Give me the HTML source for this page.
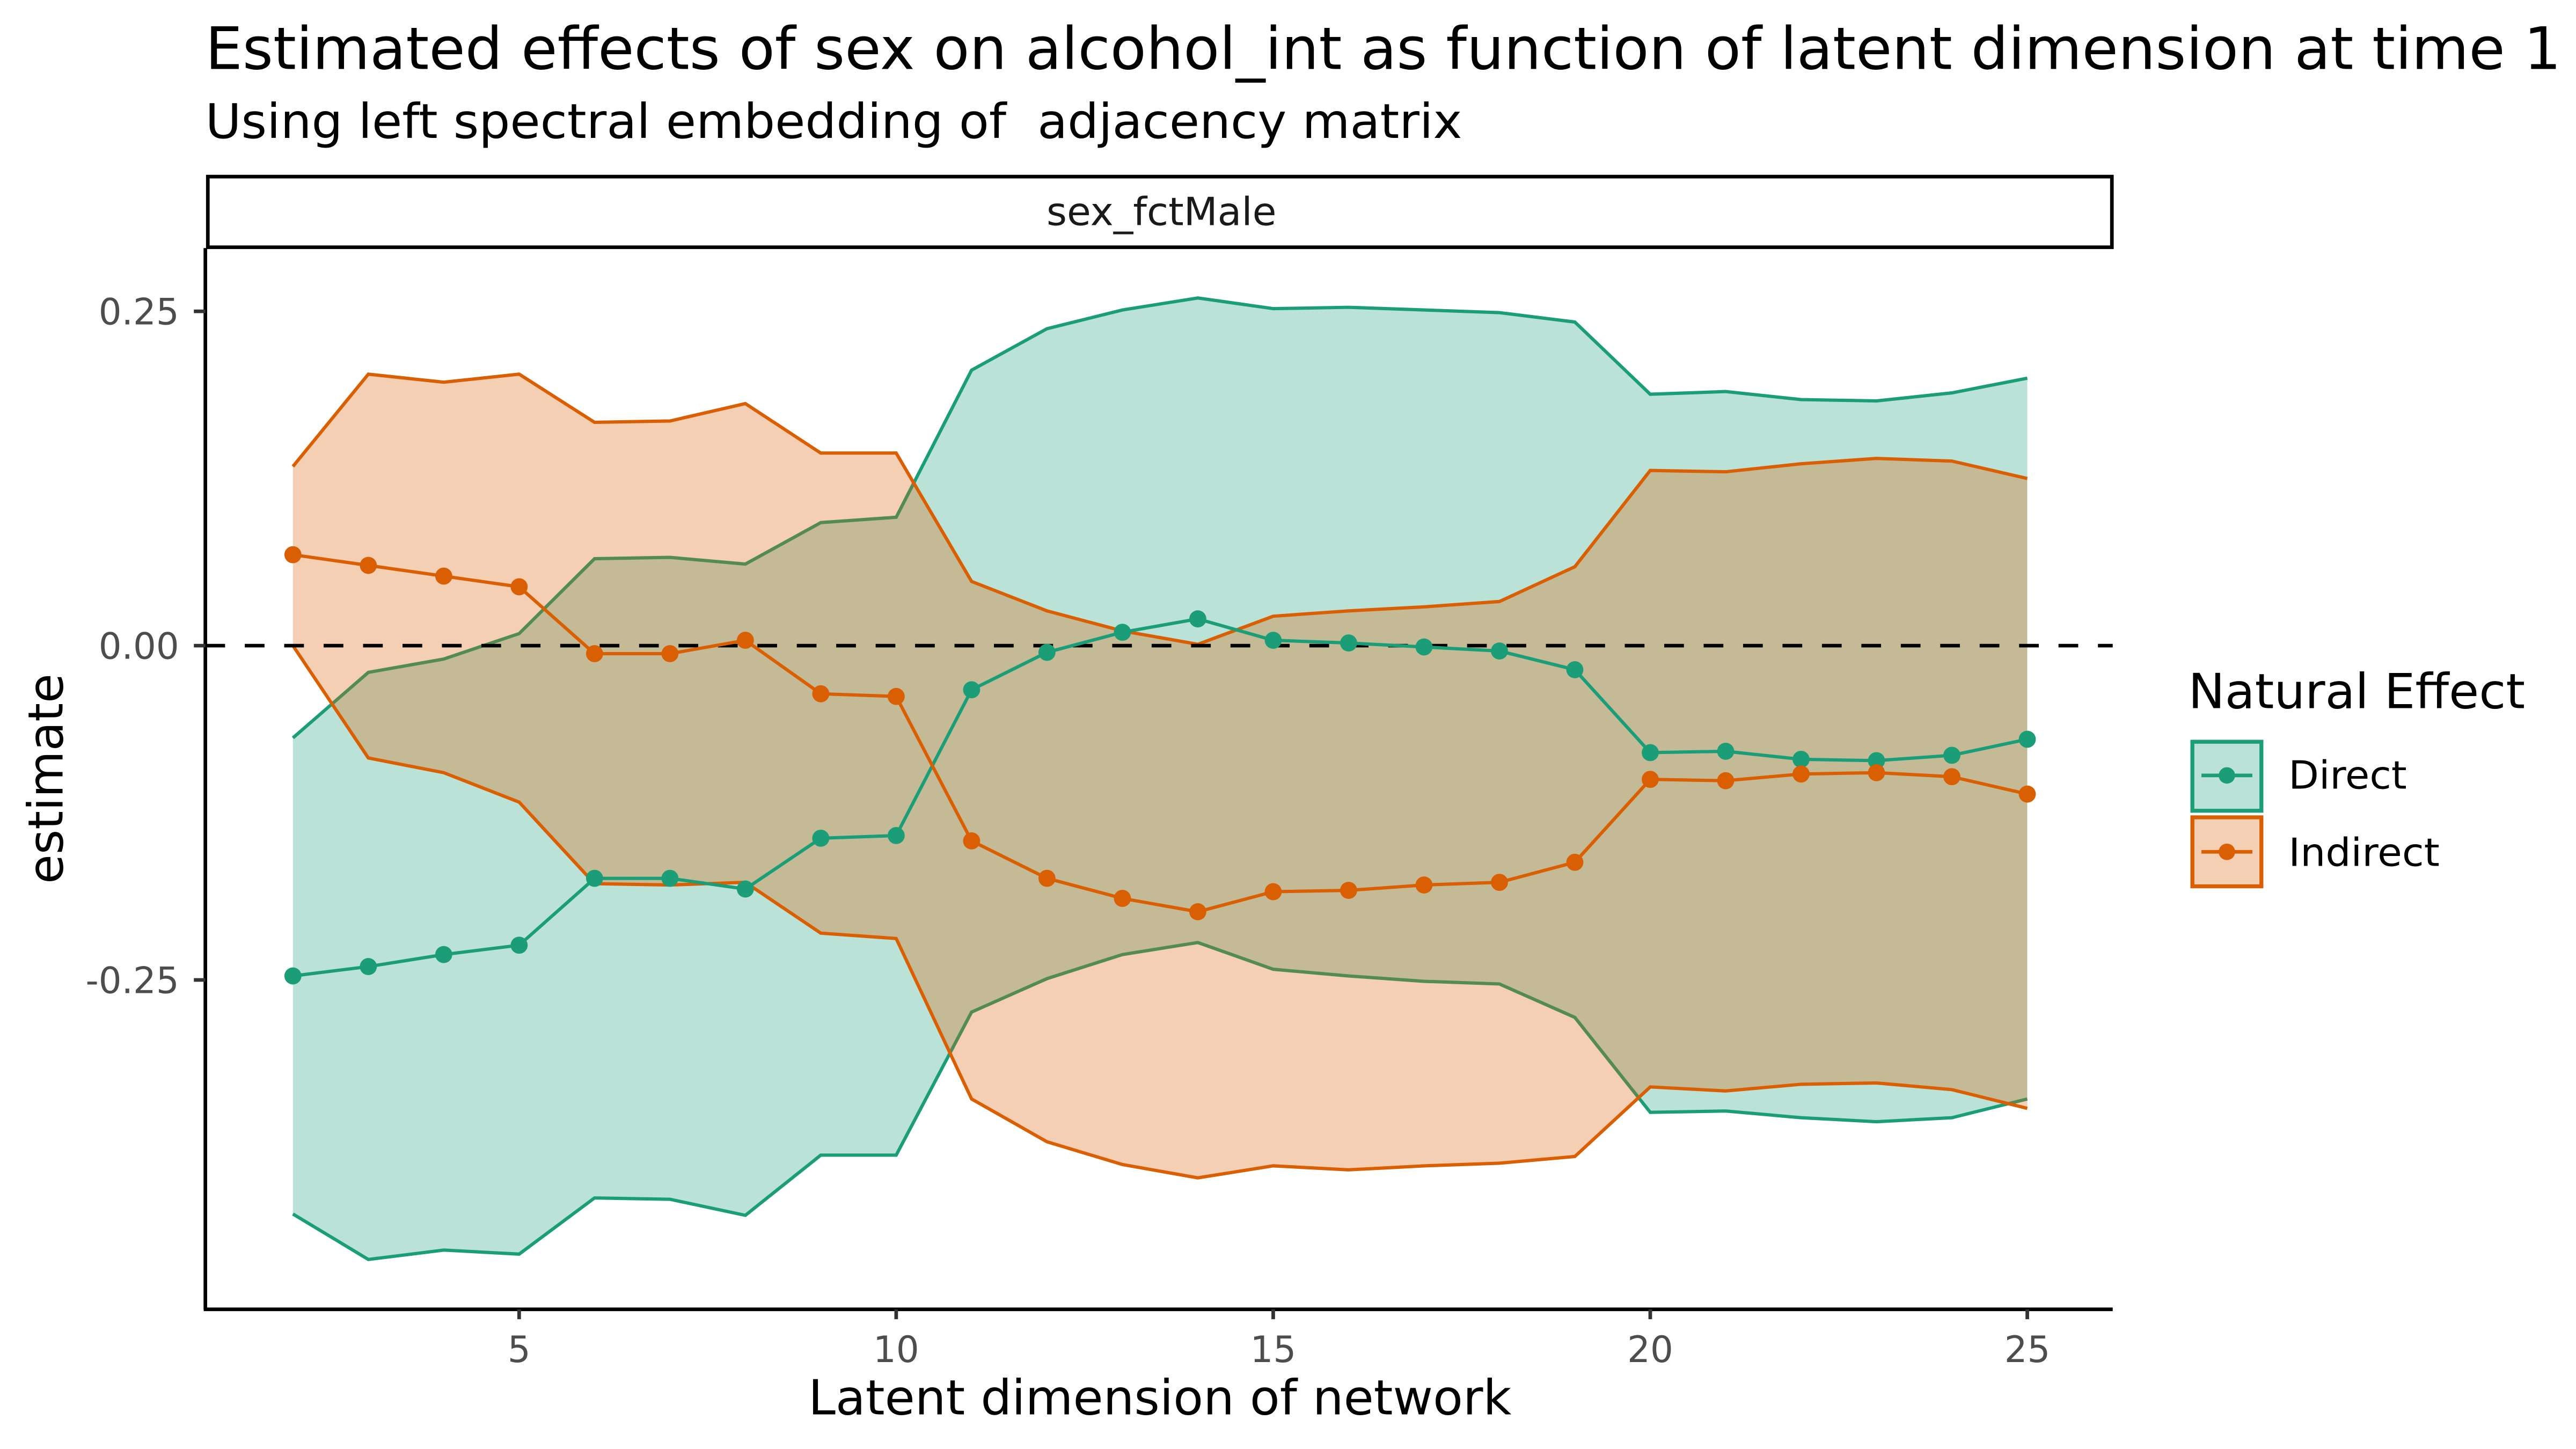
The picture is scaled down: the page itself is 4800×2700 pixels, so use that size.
<!DOCTYPE html>
<html><head><meta charset="utf-8"><style>
html,body{margin:0;padding:0;background:#fff;}
svg{display:block;font-family:"DejaVu Sans","Liberation Sans",sans-serif;}
</style></head><body>
<svg id="chart" width="4800" height="2700" viewBox="0 0 1568 882" xmlns="http://www.w3.org/2000/svg">
<rect width="1568" height="882" fill="#fff"/>
<text x="125" y="42" font-size="35.5" fill="#000" textLength="1434" lengthAdjust="spacingAndGlyphs">Estimated effects of sex on alcohol_int as function of latent dimension at time 1</text>
<text x="125" y="84" font-size="29" fill="#000" xml:space="preserve" textLength="765" lengthAdjust="spacingAndGlyphs">Using left spectral embedding of  adjacency matrix</text>
<rect x="126.5" y="107.5" width="1159" height="43" fill="#fff" stroke="#000" stroke-width="2.2"/>
<text x="707" y="137" font-size="23.5" text-anchor="middle" fill="#1a1a1a" textLength="140" lengthAdjust="spacingAndGlyphs">sex_fctMale</text>
<g id="plot"></g>
<line x1="125" y1="151" x2="125" y2="797" stroke="#000" stroke-width="2.2"/>
<line x1="124" y1="797" x2="1286" y2="797" stroke="#000" stroke-width="2.2"/>
<g id="ticks"></g>
<text x="706" y="861" font-size="29.5" text-anchor="middle" fill="#000" textLength="428" lengthAdjust="spacingAndGlyphs">Latent dimension of network</text>
<text transform="translate(38,474) rotate(-90)" font-size="29.5" text-anchor="middle" fill="#000" textLength="128" lengthAdjust="spacingAndGlyphs">estimate</text>
<text x="1332" y="431" font-size="29.5" fill="#000" textLength="205" lengthAdjust="spacingAndGlyphs">Natural Effect</text>
<g>
<rect x="1334.5" y="451.5" width="42" height="42" fill="#bae2d6" stroke="#1b9e77" stroke-width="2.4"/>
<line x1="1340" y1="472" x2="1371" y2="472" stroke="#1b9e77" stroke-width="2.2"/>
<circle cx="1355.5" cy="472" r="5" fill="#1b9e77"/>
<text x="1393" y="480" font-size="23.5" fill="#000" textLength="72" lengthAdjust="spacingAndGlyphs">Direct</text>
</g>
<g>
<rect x="1334.5" y="497.5" width="42" height="42" fill="#f4cfb3" stroke="#d95f02" stroke-width="2.4"/>
<line x1="1340" y1="518.5" x2="1371" y2="518.5" stroke="#d95f02" stroke-width="2.2"/>
<circle cx="1355.5" cy="518.5" r="5" fill="#d95f02"/>
<text x="1393" y="527" font-size="23.5" fill="#000" textLength="92" lengthAdjust="spacingAndGlyphs">Indirect</text>
</g>
</svg>
<script>
const dims = [2,3,4,5,6,7,8,9,10,11,12,13,14,15,16,17,18,19,20,21,22,23,24,25];
const directEst = [-0.247,-0.240,-0.231,-0.224,-0.174,-0.174,-0.182,-0.144,-0.142,-0.033,-0.005,0.010,0.020,0.004,0.002,-0.001,-0.004,-0.018,-0.080,-0.079,-0.085,-0.086,-0.082,-0.070];
const directHi = [-0.069,-0.020,-0.010,0.009,0.065,0.066,0.061,0.092,0.096,0.206,0.237,0.251,0.260,0.252,0.253,0.251,0.249,0.242,0.188,0.190,0.184,0.183,0.189,0.200];
const directLo = [-0.425,-0.459,-0.452,-0.455,-0.413,-0.414,-0.426,-0.381,-0.381,-0.274,-0.249,-0.231,-0.222,-0.242,-0.247,-0.251,-0.253,-0.278,-0.349,-0.348,-0.353,-0.356,-0.353,-0.339];
const indirectEst = [0.068,0.060,0.052,0.044,-0.006,-0.006,0.004,-0.036,-0.038,-0.146,-0.174,-0.189,-0.199,-0.184,-0.183,-0.179,-0.177,-0.162,-0.100,-0.101,-0.096,-0.095,-0.098,-0.111];
const indirectHi = [0.134,0.203,0.197,0.203,0.167,0.168,0.181,0.144,0.144,0.048,0.026,0.011,0.001,0.022,0.026,0.029,0.033,0.059,0.131,0.130,0.136,0.140,0.138,0.125];
const indirectLo = [0.000,-0.084,-0.095,-0.117,-0.178,-0.179,-0.177,-0.215,-0.219,-0.339,-0.371,-0.388,-0.398,-0.389,-0.392,-0.389,-0.387,-0.382,-0.330,-0.333,-0.328,-0.327,-0.332,-0.346];
const xTicks = [5,10,15,20,25];
const yTicks = [0.25,0,-0.25];
const yTickLabels = ["0.25","0.00","-0.25"];

const NS = "http://www.w3.org/2000/svg";
const xScale = d => 316 + (d - 5) * 45.9;
const yScale = v => 393 - v * 814;
const plot = document.getElementById('plot');
const ticks = document.getElementById('ticks');
function mk(tag, attrs, parent){const e=document.createElementNS(NS,tag);for(const k in attrs)e.setAttribute(k,attrs[k]);parent.appendChild(e);return e;}

function ribbon(lo, hi, color, name){
  const g = mk('g', {}, plot);
  
  
  let d = dims.map((x,i)=>(i?'L':'M')+xScale(x)+','+yScale(hi[i])).join('');
  for(let i=dims.length-1;i>=0;i--) d += 'L'+xScale(dims[i])+','+yScale(lo[i]);
  mk('path',{d:d+'Z',fill:color,'fill-opacity':0.3,stroke:'none'},g);
  mk('path',{d:dims.map((x,i)=>(i?'L':'M')+xScale(x)+','+yScale(hi[i])).join(''),fill:'none',stroke:color,'stroke-width':2},g);
  mk('path',{d:dims.map((x,i)=>(i?'L':'M')+xScale(x)+','+yScale(lo[i])).join(''),fill:'none',stroke:color,'stroke-width':2},g);
}
ribbon(directLo, directHi, '#1b9e77', 'direct-ci-ribbon');
ribbon(indirectLo, indirectHi, '#d95f02', 'indirect-ci-ribbon');

const zl = mk('line',{x1:125,x2:1286,y1:yScale(0),y2:yScale(0),stroke:'#000','stroke-width':2.2,'stroke-dasharray':'12 12'},plot);



function series(vals, color, name){
  const g = mk('g', {}, plot);
  
  
  mk('path',{d:dims.map((x,i)=>(i?'L':'M')+xScale(x)+','+yScale(vals[i])).join(''),fill:'none',stroke:color,'stroke-width':2},g);
  dims.forEach((x,i)=>{
    const c = mk('circle',{cx:xScale(x),cy:yScale(vals[i]),r:5.2,fill:color},g);
    
    
  });
}
series(directEst, '#1b9e77', 'direct-estimate');
series(indirectEst, '#d95f02', 'indirect-estimate');

xTicks.forEach(t=>{
  const x = xScale(t);
  mk('line',{x1:x,x2:x,y1:797,y2:803,stroke:'#333','stroke-width':2.2},ticks);
  const tx = mk('text',{x:x,y:829,'font-size':22,'text-anchor':'middle',fill:'#4d4d4d'},ticks);
  tx.textContent = t;
  
  
});
yTicks.forEach((t,i)=>{
  const y = yScale(t);
  mk('line',{x1:118,x2:125,y1:y,y2:y,stroke:'#333','stroke-width':2.2},ticks);
  const tx = mk('text',{x:109,y:y+8,'font-size':22,'text-anchor':'end',fill:'#4d4d4d'},ticks);
  tx.textContent = yTickLabels[i];
  
  
});
</script>
</body></html>
